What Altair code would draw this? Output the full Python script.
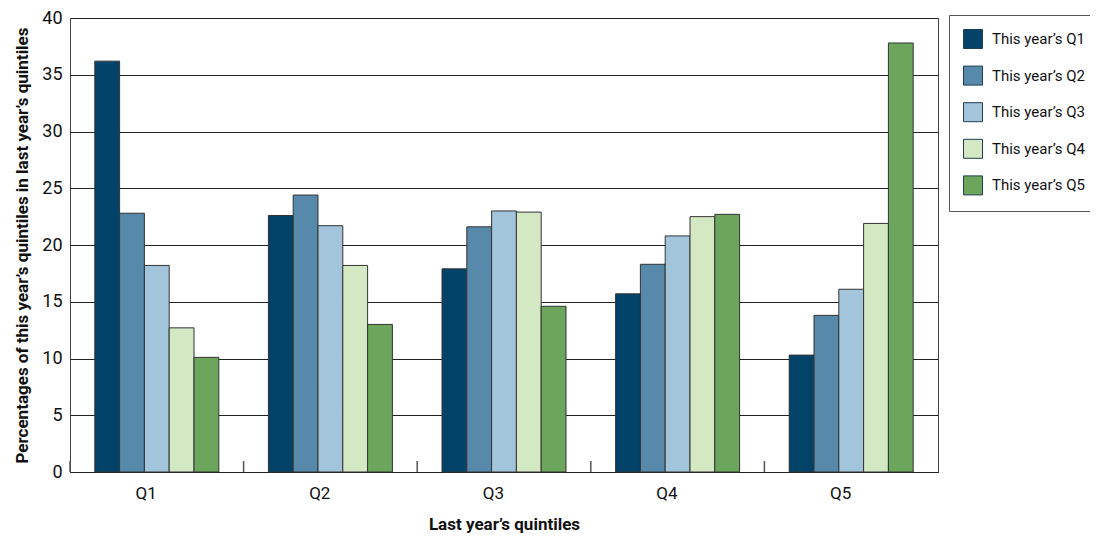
import altair as alt
import pandas as pd

groups = ["Q1", "Q2", "Q3", "Q4", "Q5"]
series = ["This year\u2019s Q1", "This year\u2019s Q2", "This year\u2019s Q3", "This year\u2019s Q4", "This year\u2019s Q5"]
colors = ["#02436a", "#5789aa", "#a3c5dc", "#d4e8c4", "#6ca65c"]

q1_vals = [36.2, 22.6, 17.9, 15.7, 10.3]
q2_vals = [22.8, 24.4, 21.6, 18.3, 13.8]
q3_vals = [18.2, 21.7, 23.0, 20.8, 16.1]
q4_vals = [12.7, 18.2, 22.9, 22.5, 21.9]
q5_vals = [10.1, 13.0, 14.6, 22.7, 37.8]

all_vals = [q1_vals, q2_vals, q3_vals, q4_vals, q5_vals]
rows = []
for s, vals in zip(series, all_vals):
    for g, v in zip(groups, vals):
        rows.append({"group": g, "series": s, "value": v})
df = pd.DataFrame(rows)
ticks_df = pd.DataFrame({"group": groups})

FONT = "Roboto"

xscale = alt.Scale(domain=groups, paddingInner=0, paddingOuter=0)

bars = alt.Chart(df).mark_bar(stroke="#333333", strokeWidth=1).encode(
    x=alt.X("group:N", scale=xscale, sort=groups,
            axis=alt.Axis(title="Last year\u2019s quintiles", labelAngle=0, ticks=False,
                          labelFontSize=17, labelPadding=21, titleFontSize=17,
                          titleFontWeight="bold", titlePadding=15, domainColor="#222222",
                          labelColor="#111111", titleColor="#111111")),
    xOffset=alt.XOffset("series:N", sort=series,
                        scale=alt.Scale(paddingInner=0, paddingOuter=1)),
    y=alt.Y("value:Q", scale=alt.Scale(domain=[0, 40], nice=False),
            axis=alt.Axis(title="Percentages of this year\u2019s quintiles in last year\u2019s quintiles",
                          values=[0, 5, 10, 15, 20, 25, 30, 35, 40], ticks=False,
                          labelFontSize=18, labelPadding=8, titleFontSize=17,
                          titleFontWeight="bold", titlePadding=10, gridColor="#222222",
                          gridOpacity=1, domain=False, labelColor="#111111",
                          titleColor="#111111")),
    color=alt.Color("series:N", sort=series,
                    scale=alt.Scale(domain=series, range=colors),
                    legend=alt.Legend(title=None, orient="none", legendX=879, legendY=-3,
                                      symbolType="square", symbolSize=361,
                                      symbolStrokeColor="#1f3f4f", symbolStrokeWidth=1,
                                      labelFontSize=15, labelOffset=9, rowPadding=12.6,
                                      padding=14, strokeColor="#555555", fillColor="white",
                                      labelColor="#111111", labelLimit=200)),
)

tick_marks = alt.Chart(ticks_df).mark_rule(color="#555555", strokeWidth=1.5).encode(
    x=alt.X("group:N", scale=xscale, sort=groups, bandPosition=0),
    y=alt.value(443),
    y2=alt.value(454),
)

chart = alt.layer(tick_marks, bars).properties(
    width=868,
    height=454,
    autosize=alt.AutoSizeParams(type="none"),
    padding={"left": 62, "top": 10, "right": 152, "bottom": 61},
).configure(font=FONT).configure_view(stroke="#444444", strokeWidth=1)

chart.save("out.html", embed_options={"renderer": "svg", "actions": False})
